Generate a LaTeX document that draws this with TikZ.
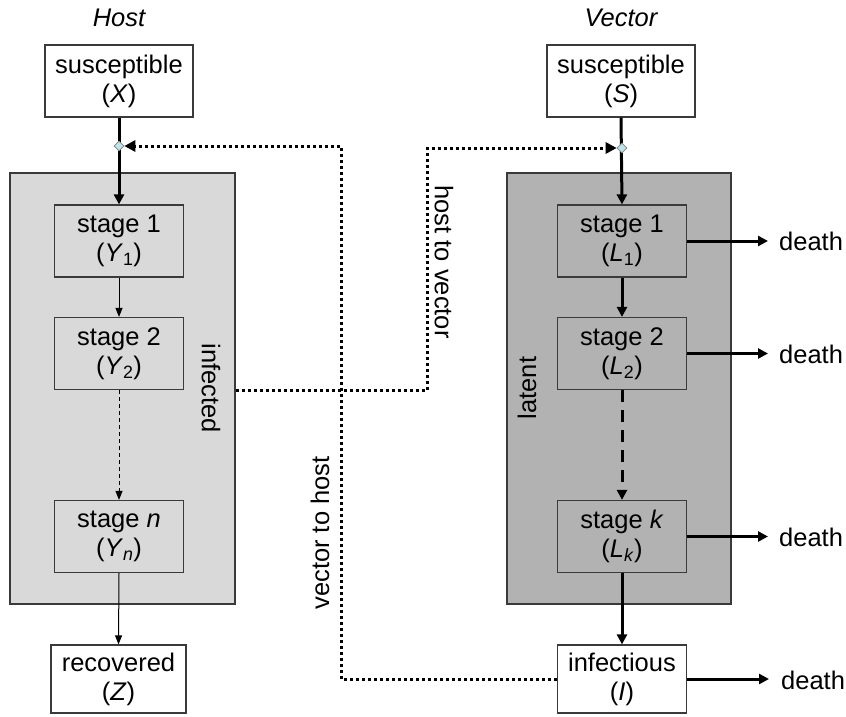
\documentclass[tikz,border=0pt]{standalone}
\usepackage{fontspec}
\setmainfont{Liberation Sans}
\usetikzlibrary{arrows.meta,shapes.geometric}
\definecolor{lightfill}{HTML}{D9D9D9}
\definecolor{darkfill}{HTML}{B2B2B2}
\definecolor{edgegray}{HTML}{3A3A3A}
\definecolor{dmdfill}{HTML}{BFE3E6}
\begin{document}
\begin{tikzpicture}[x=1pt,y=-1pt,
  every node/.style={font=\fontsize{25.5}{29}\selectfont},
  box/.style={draw=edgegray, line width=1.2pt, minimum width=129pt, minimum height=72pt, inner sep=0pt, align=center},
  container/.style={draw=edgegray, line width=1.2pt, inner sep=0pt},
  thickarr/.style={line width=3pt, -{Triangle[length=10pt,width=10pt]}},
  thinarr/.style={line width=1pt, -{Triangle[length=9pt,width=7pt]}},
  dotline/.style={line width=3pt, dash pattern=on 3pt off 3pt, -{Triangle[length=11pt,width=11pt]}},
  junction/.style={diamond, draw=gray, fill=dmdfill, line width=0.6pt, minimum size=10pt, inner sep=0pt},
  deathlbl/.style={anchor=west, inner sep=0pt},
  rotlbl/.style={inner sep=0pt}
]
\useasboundingbox (0,0) rectangle (846,717);

% titles
\node[anchor=base] (hosttitle) at (119,27) {\itshape Host};
\node[anchor=base] (vectortitle) at (621,27) {\itshape Vector};

% containers
\node[container, fill=lightfill, minimum width=225pt, minimum height=431pt] (infbox) at (122.5,388.5) {};
\node[container, fill=darkfill, minimum width=224pt, minimum height=431pt] (latbox) at (619,388.5) {};

\node[rotlbl, rotate=-90] (inflbl) at (211,388) {infected};
\node[rotlbl, rotate=90] (latlbl) at (527,388) {latent};

% host boxes
\node[box, fill=white, minimum width=148pt] (X) at (119,81) {susceptible\\(\textit{X})};
\node[box, fill=lightfill] (Y1) at (119,241) {stage 1\\(\textit{Y}\textsubscript{1})};
\node[box, fill=lightfill] (Y2) at (119,353.5) {stage 2\\(\textit{Y}\textsubscript{2})};
\node[box, fill=lightfill] (Yn) at (119,536.5) {stage \textit{n}\\(\textit{Y}\textsubscript{\textit{n}})};
\node[box, fill=white, minimum width=135pt, minimum height=68pt] (Z) at (118.5,679) {recovered\\(\textit{Z})};

% vector boxes
\node[box, fill=white, minimum width=148pt] (S) at (621,81) {susceptible\\(\textit{S})};
\node[box, fill=darkfill] (L1) at (622,241) {stage 1\\(\textit{L}\textsubscript{1})};
\node[box, fill=darkfill] (L2) at (622,353.5) {stage 2\\(\textit{L}\textsubscript{2})};
\node[box, fill=darkfill] (Lk) at (622,536.5) {stage \textit{k}\\(\textit{L}\textsubscript{\textit{k}})};
\node[box, fill=white, minimum height=68pt] (I) at (622,679) {infectious\\(\textit{I})};

% death labels
\node[deathlbl] (d1) at (779,241) {death};
\node[deathlbl] (d2) at (779,354) {death};
\node[deathlbl] (d3) at (779,537) {death};
\node[deathlbl] (d4) at (781,680) {death};

% junction positions
\coordinate (hdpos) at (119,146);
\coordinate (vdpos) at (622,148);

% host arrows
\draw[thickarr] (X.south) -- (Y1.north);
\draw[thinarr] (Y1.south) -- (Y2.north);
\draw[thinarr, dash pattern=on 4pt off 3pt] (Y2.south) -- (Yn.north);
\draw[thinarr] (Yn.south) -- (Z.north);

% vector arrows
\draw[thickarr] (S.south) -- (L1.north);
\draw[thickarr] (L1.south) -- (L2.north);
\draw[thickarr, dash pattern=on 12pt off 8pt] (L2.south) -- (Lk.north);
\draw[thickarr] (Lk.south) -- (I.north);

% death arrows
\draw[thickarr, shorten >=11pt] (L1.east) -- (L1.east -| d1.west);
\draw[thickarr, shorten >=11pt] (L2.east) -- (L2.east -| d2.west);
\draw[thickarr, shorten >=11pt] (Lk.east) -- (Lk.east -| d3.west);
\draw[thickarr, shorten >=12pt] (I.east) -- (I.east -| d4.west);

% junction diamonds
\node[junction] (hd) at (hdpos) {};
\node[junction] (vd) at (vdpos) {};

% transmission lines
\coordinate (h2vcorner) at (427,148);
\coordinate (v2hcorner) at (341,146);
\draw[dotline] (infbox.east |- Y2.south) -| (h2vcorner) -- (vd.west);
\draw[dotline] (I.west) -| (v2hcorner) -- (hd.east);

\node[rotlbl, rotate=-90] (h2vlbl) at (444,262) {host to vector};
\node[rotlbl, rotate=90] (v2hlbl) at (320,533) {vector to host};
\end{tikzpicture}
\end{document}
